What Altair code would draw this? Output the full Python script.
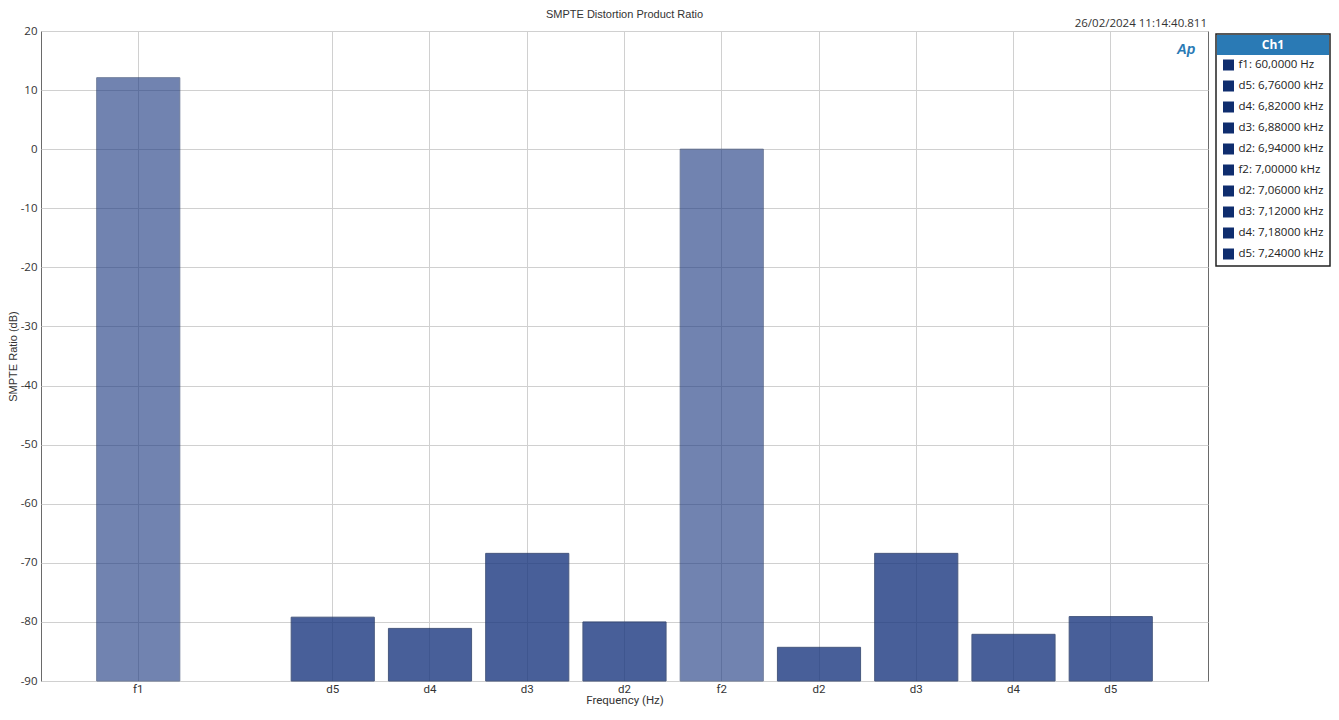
import altair as alt
import pandas as pd

# ---- data ----
categories = ["f1", "d5", "d4", "d3", "d2", "f2", "d2", "d3", "d4", "d5"]
legend_labels = [
    "f1: 60,0000 Hz", "d5: 6,76000 kHz", "d4: 6,82000 kHz", "d3: 6,88000 kHz",
    "d2: 6,94000 kHz", "f2: 7,00000 kHz", "d2: 7,06000 kHz", "d3: 7,12000 kHz",
    "d4: 7,18000 kHz", "d5: 7,24000 kHz",
]
ratio_db = [12.1, -79.2, -81.1, -68.4, -80.0, 0.0, -84.3, -68.4, -82.1, -79.1]
kinds = ["f", "d", "d", "d", "d", "f", "d", "d", "d", "d"]
y_ticks = list(range(-90, 21, 10))
gap_slot = "(gap)"
x_domain = [legend_labels[0], gap_slot] + legend_labels[1:]
chart_title = "SMPTE Distortion Product Ratio"
timestamp = "26/02/2024 11:14:40.811"
legend_title = "Ch1"

SEGOE = "Open Sans"
XFONT = "Roboto"
ARIAL = "Liberation Sans"
TXT = "#333333"
GRID = "#d0d0d0"
FRAME = "#6a6a6a"
BAR = "#1b3880"
NAVY = "#0f2d6e"
HEAD = "#2a7ab5"

W, H = 1167, 650

bars_df = pd.DataFrame({"key": legend_labels, "name": categories,
                        "value": ratio_db, "kind": kinds})

bars = alt.Chart(bars_df).mark_bar(fill=BAR, stroke="#1b3060", strokeWidth=1).encode(
    x=alt.X("key:N", sort=None,
            scale=alt.Scale(domain=x_domain, paddingInner=0.145, paddingOuter=0.5725),
            axis=alt.Axis(values=legend_labels,
                          labelExpr="split(datum.value, ':')[0]",
                          title="Frequency (Hz)", labelAngle=0, ticks=False,
                          domain=False, grid=True, gridColor=GRID,
                          labelFont=XFONT, labelFontSize=11.5, labelColor=TXT,
                          labelPadding=2, titleFont=XFONT, titleFontSize=11.5,
                          titleFontWeight="normal", titleColor=TXT, titlePadding=0)),
    y=alt.Y("value:Q",
            scale=alt.Scale(domain=[-90, 20], nice=False, zero=False),
            axis=alt.Axis(values=y_ticks, title="SMPTE Ratio (dB)", ticks=False,
                          labelExpr="datum.value < 0 ? '-' + abs(datum.value) : '' + datum.value",
                          domain=False, grid=True, gridColor=GRID,
                          labelFont=SEGOE, labelFontSize=11.5, labelColor=TXT,
                          labelPadding=4, titleFont=ARIAL, titleFontSize=11,
                          titleFontWeight="normal", titleColor=TXT,
                          titleAngle=270, titleX=-28, titleY=H / 2,
                          titleBaseline="middle", titleAlign="center")),
    y2=alt.datum(-90),
    opacity=alt.Opacity("kind:N", scale=alt.Scale(domain=["f", "d"], range=[0.62, 0.8]),
                        legend=None),
)

one = pd.DataFrame({"t": [chart_title], "ts": [timestamp], "lt": [legend_title], "logo": ["Ap"]})

title_mark = alt.Chart(one).mark_text(font=ARIAL, fontSize=11, color=TXT, align="center",
                                      baseline="alphabetic").encode(
    text="t:N", x=alt.value(W / 2), y=alt.value(-13))

ts_mark = alt.Chart(one).mark_text(font=SEGOE, fontSize=11.5, color=TXT, align="right",
                                   baseline="alphabetic").encode(
    text="ts:N", x=alt.value(W - 1), y=alt.value(-4))

logo_mark = alt.Chart(one).mark_text(font=ARIAL, fontSize=14, fontStyle="italic",
                                     fontWeight="bold", color=HEAD, align="center",
                                     baseline="middle").encode(
    text="logo:N", x=alt.value(W - 22), y=alt.value(19))

legend_box = alt.Chart(one).mark_rect(fill="white", stroke="#222222", strokeWidth=1.5).encode(
    x=alt.value(1175), x2=alt.value(1289), y=alt.value(3), y2=alt.value(235))

legend_head = alt.Chart(one).mark_rect(fill=HEAD).encode(
    x=alt.value(1176), x2=alt.value(1288), y=alt.value(4), y2=alt.value(24))

legend_head_text = alt.Chart(one).mark_text(font=SEGOE, fontSize=12, fontWeight="bold",
                                            color="white", align="center",
                                            baseline="middle").encode(
    text="lt:N", x=alt.value(1232), y=alt.value(14))

leg_df = pd.DataFrame({"label": legend_labels})
leg_base = alt.Chart(leg_df).transform_window(
    idx="row_number()"
).transform_calculate(
    yy="13 + 21 * datum.idx"
)

leg_sw = leg_base.mark_point(shape="square", filled=True, size=121, color=NAVY, opacity=1).encode(
    x=alt.value(1187.5), y=alt.Y("yy:Q", scale=None))

leg_txt = leg_base.mark_text(font=SEGOE, fontSize=11.5, color="#222222", align="left",
                             baseline="middle").encode(
    text="label:N", x=alt.value(1197.5), y=alt.Y("yy:Q", scale=None))

chart = alt.layer(
    bars, title_mark, ts_mark, logo_mark, legend_box, legend_head, legend_head_text,
    leg_sw, leg_txt
).resolve_scale(y="independent").properties(
    width=W, height=H,
    autosize=alt.AutoSizeParams(type="none"),
    padding={"left": 33, "top": 23, "right": 123, "bottom": 27},
).configure_view(stroke=FRAME, strokeWidth=1)

chart.save("out.html", embed_options={"renderer": "svg", "actions": False})
